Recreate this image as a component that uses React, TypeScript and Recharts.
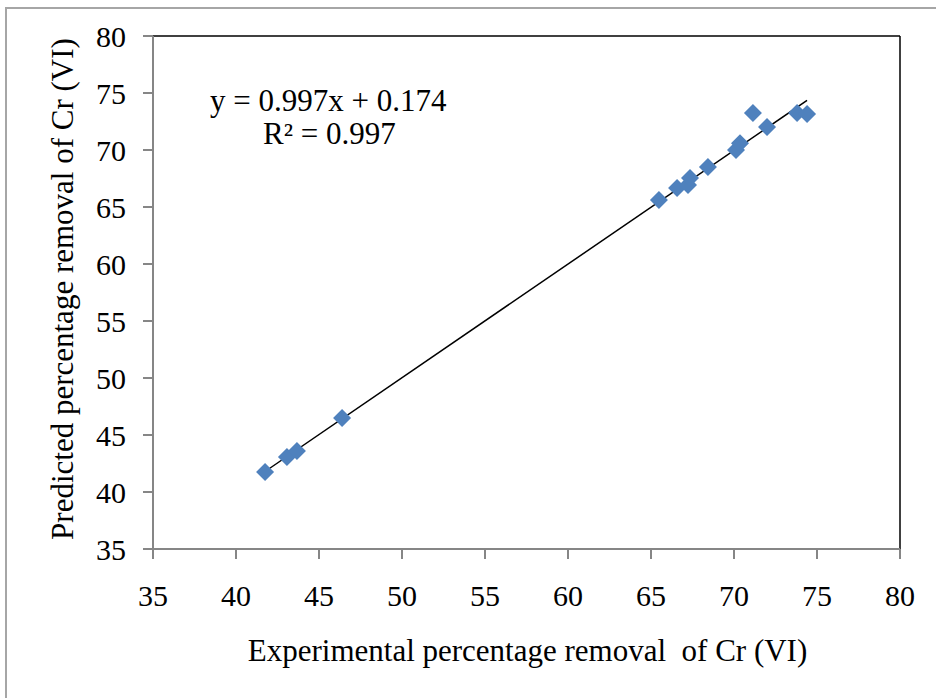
import React from "react";
import {
  ScatterChart,
  Scatter,
  XAxis,
  YAxis,
  ReferenceLine,
} from "recharts";

// experimental vs predicted % removal of Cr (VI)
const experimental = [41.75, 43.07, 43.67, 46.39, 65.48, 66.57, 67.23, 67.35, 68.43, 70.12, 70.36, 71.14, 71.99, 73.8, 74.4];
const predicted = [41.75, 43.07, 43.6, 46.5, 65.61, 66.67, 66.93, 67.54, 68.51, 70.0, 70.6, 73.25, 72.02, 73.25, 73.16];
const ticks = [35, 40, 45, 50, 55, 60, 65, 70, 75, 80];
const slope = 0.997;
const intercept = 0.174;

const points = experimental.map((x, i) => ({ x, y: predicted[i] }));
const xMin = Math.min(...experimental);
const xMax = Math.max(...experimental);

const font = "'Liberation Serif', 'Times New Roman', serif";
const axisGray = "#868686";

const Diamond = (props: any) => {
  const { cx, cy } = props;
  const r = 9;
  return (
    <polygon
      points={`${cx},${cy - r} ${cx + r},${cy} ${cx},${cy + r} ${cx - r},${cy}`}
      fill="#4f81bd"
    />
  );
};

const textStyle: React.CSSProperties = {
  position: "absolute",
  fontSize: 31,
  lineHeight: "31px",
  whiteSpace: "pre",
};

export default function App() {
  return (
    <div
      style={{
        position: "absolute",
        left: 0,
        top: 0,
        width: 936,
        height: 698,
        overflow: "hidden",
        background: "#fff",
        fontFamily: font,
      }}
    >
      <div
        style={{
          position: "absolute",
          left: 5,
          top: 7,
          width: 1000,
          height: 1000,
          borderLeft: "2px solid #a6a6a6",
          borderTop: "2px solid #a6a6a6",
        }}
      />
      <ScatterChart
        width={936}
        height={698}
        margin={{ top: 36, right: 36, left: 0, bottom: 79 }}
        style={{ position: "absolute", left: 0, top: 0 }}
      >
        <XAxis
          type="number"
          dataKey="x"
          domain={[35, 80]}
          ticks={ticks}
          height={70}
          stroke={axisGray}
          strokeWidth={2}
          tickSize={10}
          tickMargin={26}
          tick={{ fill: "#000", fontSize: 30, fontFamily: font }}
          allowDataOverflow
        />
        <YAxis
          type="number"
          dataKey="y"
          domain={[35, 80]}
          ticks={ticks}
          width={153}
          stroke={axisGray}
          strokeWidth={2}
          tickSize={10}
          tickMargin={17}
          tick={{ fill: "#000", fontSize: 30, fontFamily: font }}
          allowDataOverflow
        />
        <ReferenceLine y={80} stroke="#000" strokeWidth={1.5} />
        <ReferenceLine x={80} stroke="#000" strokeWidth={1.5} />
        <Scatter data={points} shape={Diamond} isAnimationActive={false} />
        <ReferenceLine
          segment={[
            { x: xMin, y: slope * xMin + intercept },
            { x: xMax, y: slope * xMax + intercept },
          ]}
          stroke="#000"
          strokeWidth={1.5}
        />
      </ScatterChart>
      <div style={{ ...textStyle, left: 210, top: 85 }}>y = 0.997x + 0.174</div>
      <div style={{ ...textStyle, left: 263, top: 118 }}>R² = 0.997</div>
      <div style={{ ...textStyle, left: 0, width: 1055, top: 635, textAlign: "center" }}>
        Experimental percentage removal  of Cr (VI)
      </div>
      <div
        style={{
          ...textStyle,
          left: 62,
          top: 289,
          transform: "translate(-50%, -50%) rotate(-90deg)",
        }}
      >
        Predicted percentage removal of Cr (VI)
      </div>
    </div>
  );
}
